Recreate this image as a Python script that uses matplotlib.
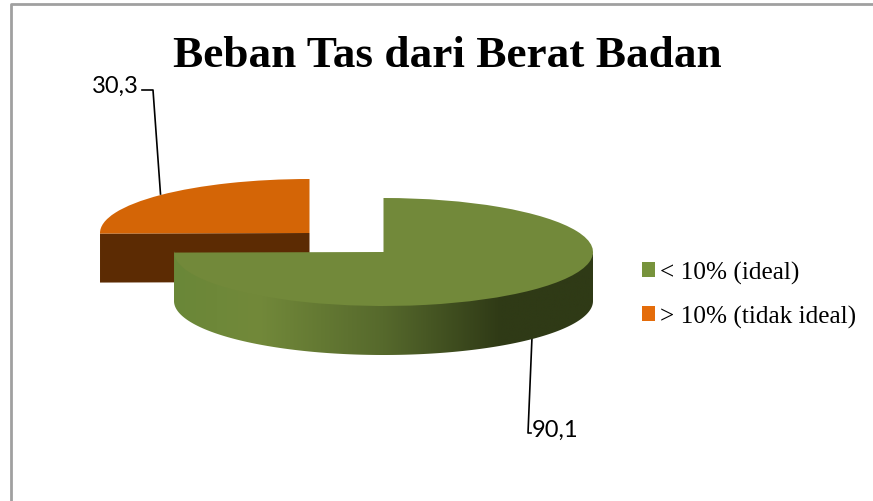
import numpy as np
import matplotlib
matplotlib.use("Agg")
import matplotlib.pyplot as plt
from matplotlib.colors import LinearSegmentedColormap
from matplotlib.patches import Patch, Polygon

categories = ["< 10% (ideal)", "> 10% (tidak ideal)"]
values = [90.1, 30.3]
value_labels = ["90,1", "30,3"]
title = "Beban Tas dari Berat Badan"

top_colors = ["#72893a", "#d46506"]
legend_colors = ["#77933c", "#e46c0a"]
orange_side = "#5c2b03"

# ellipse of the pie in pixels of the picture
cx, cy = 383.5, 253
rx, ry = 209.5, 54
depth = 49 / ry
orange_shift = (-74 / rx, 19 / ry)


def px(x, y):
    return (x - cx) / rx, (cy - y) / ry


def wall(center, t1, t2):
    t = np.radians(np.linspace(t1, t2, 200))
    xs = center[0] + np.cos(t)
    ys = center[1] + np.sin(t)
    # upper edge goes a bit under the top face so no seam shows
    top = np.column_stack([xs, ys + 0.04])
    bottom = np.column_stack([xs, ys - depth])
    return np.vstack([top, bottom[::-1]])


fig = plt.figure(figsize=(8.73, 5.02), dpi=100)
ax = fig.add_axes([0, 0, 1, 1])

wedges, _ = ax.pie(values, colors=top_colors, startangle=90, counterclock=False,
                   radius=1, frame=True, wedgeprops={"linewidth": 0})
ax.set_aspect("auto")
ax.set_xlim(px(0, 0)[0], px(873, 0)[0])
ax.set_ylim(px(0, 502)[1], px(0, 0)[1])
ax.axis("off")

green, orange = wedges
green.set_zorder(5)
orange.set_center(orange_shift)
orange.set_zorder(2)

# cut face of the orange slice, it looks to the front
angle = np.radians(orange.theta2)
edge_x = orange_shift[0] + np.cos(angle)
edge_y = orange_shift[1] + np.sin(angle)
ax.add_patch(Polygon([(orange_shift[0], orange_shift[1]), (edge_x, edge_y),
                      (edge_x, edge_y - depth), (orange_shift[0], orange_shift[1] - depth)],
                     closed=True, facecolor=orange_side, edgecolor="none", zorder=1))

# front wall of the green slice with the shading of the original
shade = LinearSegmentedColormap.from_list(
    "side", [(0, "#6a8738"), (0.2, "#72893a"), (0.5, "#56692c"), (0.78, "#2f3a16"), (1, "#2f3a16")])
wall_poly = Polygon(wall((0, 0), green.theta1, 0), closed=True, facecolor="none",
                    edgecolor="none", transform=ax.transData)
ax.add_patch(wall_poly)
img = ax.imshow(np.linspace(0, 1, 256)[None, :], cmap=shade, aspect="auto",
                extent=(-1, 1, -1 - depth, 1), zorder=4)
img.set_clip_path(wall_poly)
ax.set_xlim(px(0, 0)[0], px(873, 0)[0])
ax.set_ylim(px(0, 502)[1], px(0, 0)[1])

# border of the chart area, only left and top are in the crop
border = np.array([px(11, 502), px(11, 5), px(873, 5)])
ax.plot(border[:, 0], border[:, 1], color="#a0a0a0", lw=2, zorder=1)

# leader lines
lead_orange = np.array([px(142, 91), px(153, 91), px(160.5, 195)])
lead_green = np.array([px(532, 338), px(528, 434), px(531, 434)])
ax.plot(lead_orange[:, 0], lead_orange[:, 1], color="black", lw=1.2, zorder=3)
ax.plot(lead_green[:, 0], lead_green[:, 1], color="black", lw=1.2, zorder=3)

ax.text(*px(92, 93), value_labels[1], family="Lato", fontsize=17, va="baseline", ha="left")
ax.text(*px(532, 437), value_labels[0], family="Lato", fontsize=17, va="baseline", ha="left")

ax.text(*px(447, 67), title, family="Liberation Serif", weight="bold", fontsize=32.6,
        ha="center", va="baseline")

handles = [Patch(facecolor=c, edgecolor="none") for c in legend_colors]
ax.legend(handles, categories, loc="upper left", bbox_to_anchor=(642 / 873, 1 - 262 / 502),
          bbox_transform=fig.transFigure, frameon=False,
          prop={"family": "Liberation Serif", "size": 18.2}, handlelength=0.52, handleheight=0.52,
          handletextpad=0.2, labelspacing=0.82, borderpad=0, borderaxespad=0)

fig.savefig("out.png", dpi=100)
plt.close(fig)
